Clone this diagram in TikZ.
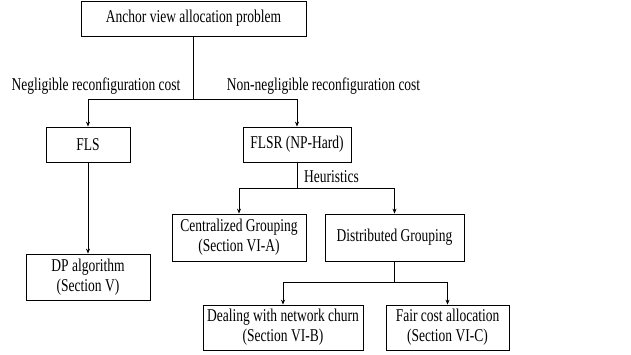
\documentclass[tikz,border=0pt]{standalone}
\usepackage{fontspec}
\setmainfont{Liberation Serif}[FakeStretch=0.75]
\usetikzlibrary{arrows.meta}
\begin{document}
\begin{tikzpicture}[x=1pt,y=-1pt,
  box/.style={draw, line width=0.8pt, inner sep=0pt, align=center, font=\fontsize{18}{20}\selectfont},
  lbl/.style={inner sep=0pt, font=\fontsize{18}{20}\selectfont},
  conn/.style={line width=0.8pt},
  arr/.style={conn, -{Stealth[length=5pt,width=4pt]}}]
\path[use as bounding box, fill=white] (0,0) rectangle (631,354);
\node[box, minimum width=225pt, minimum height=35pt] (top) at (193.5,18.5) {Anchor view allocation problem};
\node[box, minimum width=84pt, minimum height=35pt] (fls) at (88,144.5) {FLS};
\node[box, minimum width=108pt, minimum height=35pt] (flsr) at (297,144.5) {FLSR (NP-Hard)};
\node[box, minimum width=124pt, minimum height=46pt] (dp) at (88,277) {DP algorithm\\(Section V)};
\node[box, minimum width=134pt, minimum height=47pt] (cent) at (239,237.5) {Centralized Grouping\\(Section VI-A)};
\node[box, minimum width=139pt, minimum height=47pt] (dist) at (394.5,237.5) {Distributed Grouping};
\node[box, minimum width=160pt, minimum height=45pt] (deal) at (283,327.5) {Dealing with network churn\\(Section VI-B)};
\node[box, minimum width=123pt, minimum height=45pt] (fair) at (447.5,327.5) {Fair cost allocation\\(Section VI-C)};
\node[lbl] (neg) at (96,86) {Negligible reconfiguration cost};
\node[lbl] (nonneg) at (323.5,86) {Non-negligible reconfiguration cost};
\node[lbl] (heur) at (331.5,177) {Heuristics};
\coordinate (j1) at (193.5,99);
\coordinate (j2) at (297,188);
\coordinate (j3) at (394.5,282);
\draw[conn] (top.south) -- (j1);
\draw[arr] (j1) -| (fls.north);
\draw[arr] (j1) -| (flsr.north);
\draw[arr] (fls.south) -- (dp.north);
\draw[conn] (flsr.south) -- (j2);
\draw[arr] (j2) -| (cent.north);
\draw[arr] (j2) -| (dist.north);
\draw[conn] (dist.south) -- (j3);
\draw[arr] (j3) -| (deal.north);
\draw[arr] (j3) -| (fair.north);
\end{tikzpicture}
\end{document}
